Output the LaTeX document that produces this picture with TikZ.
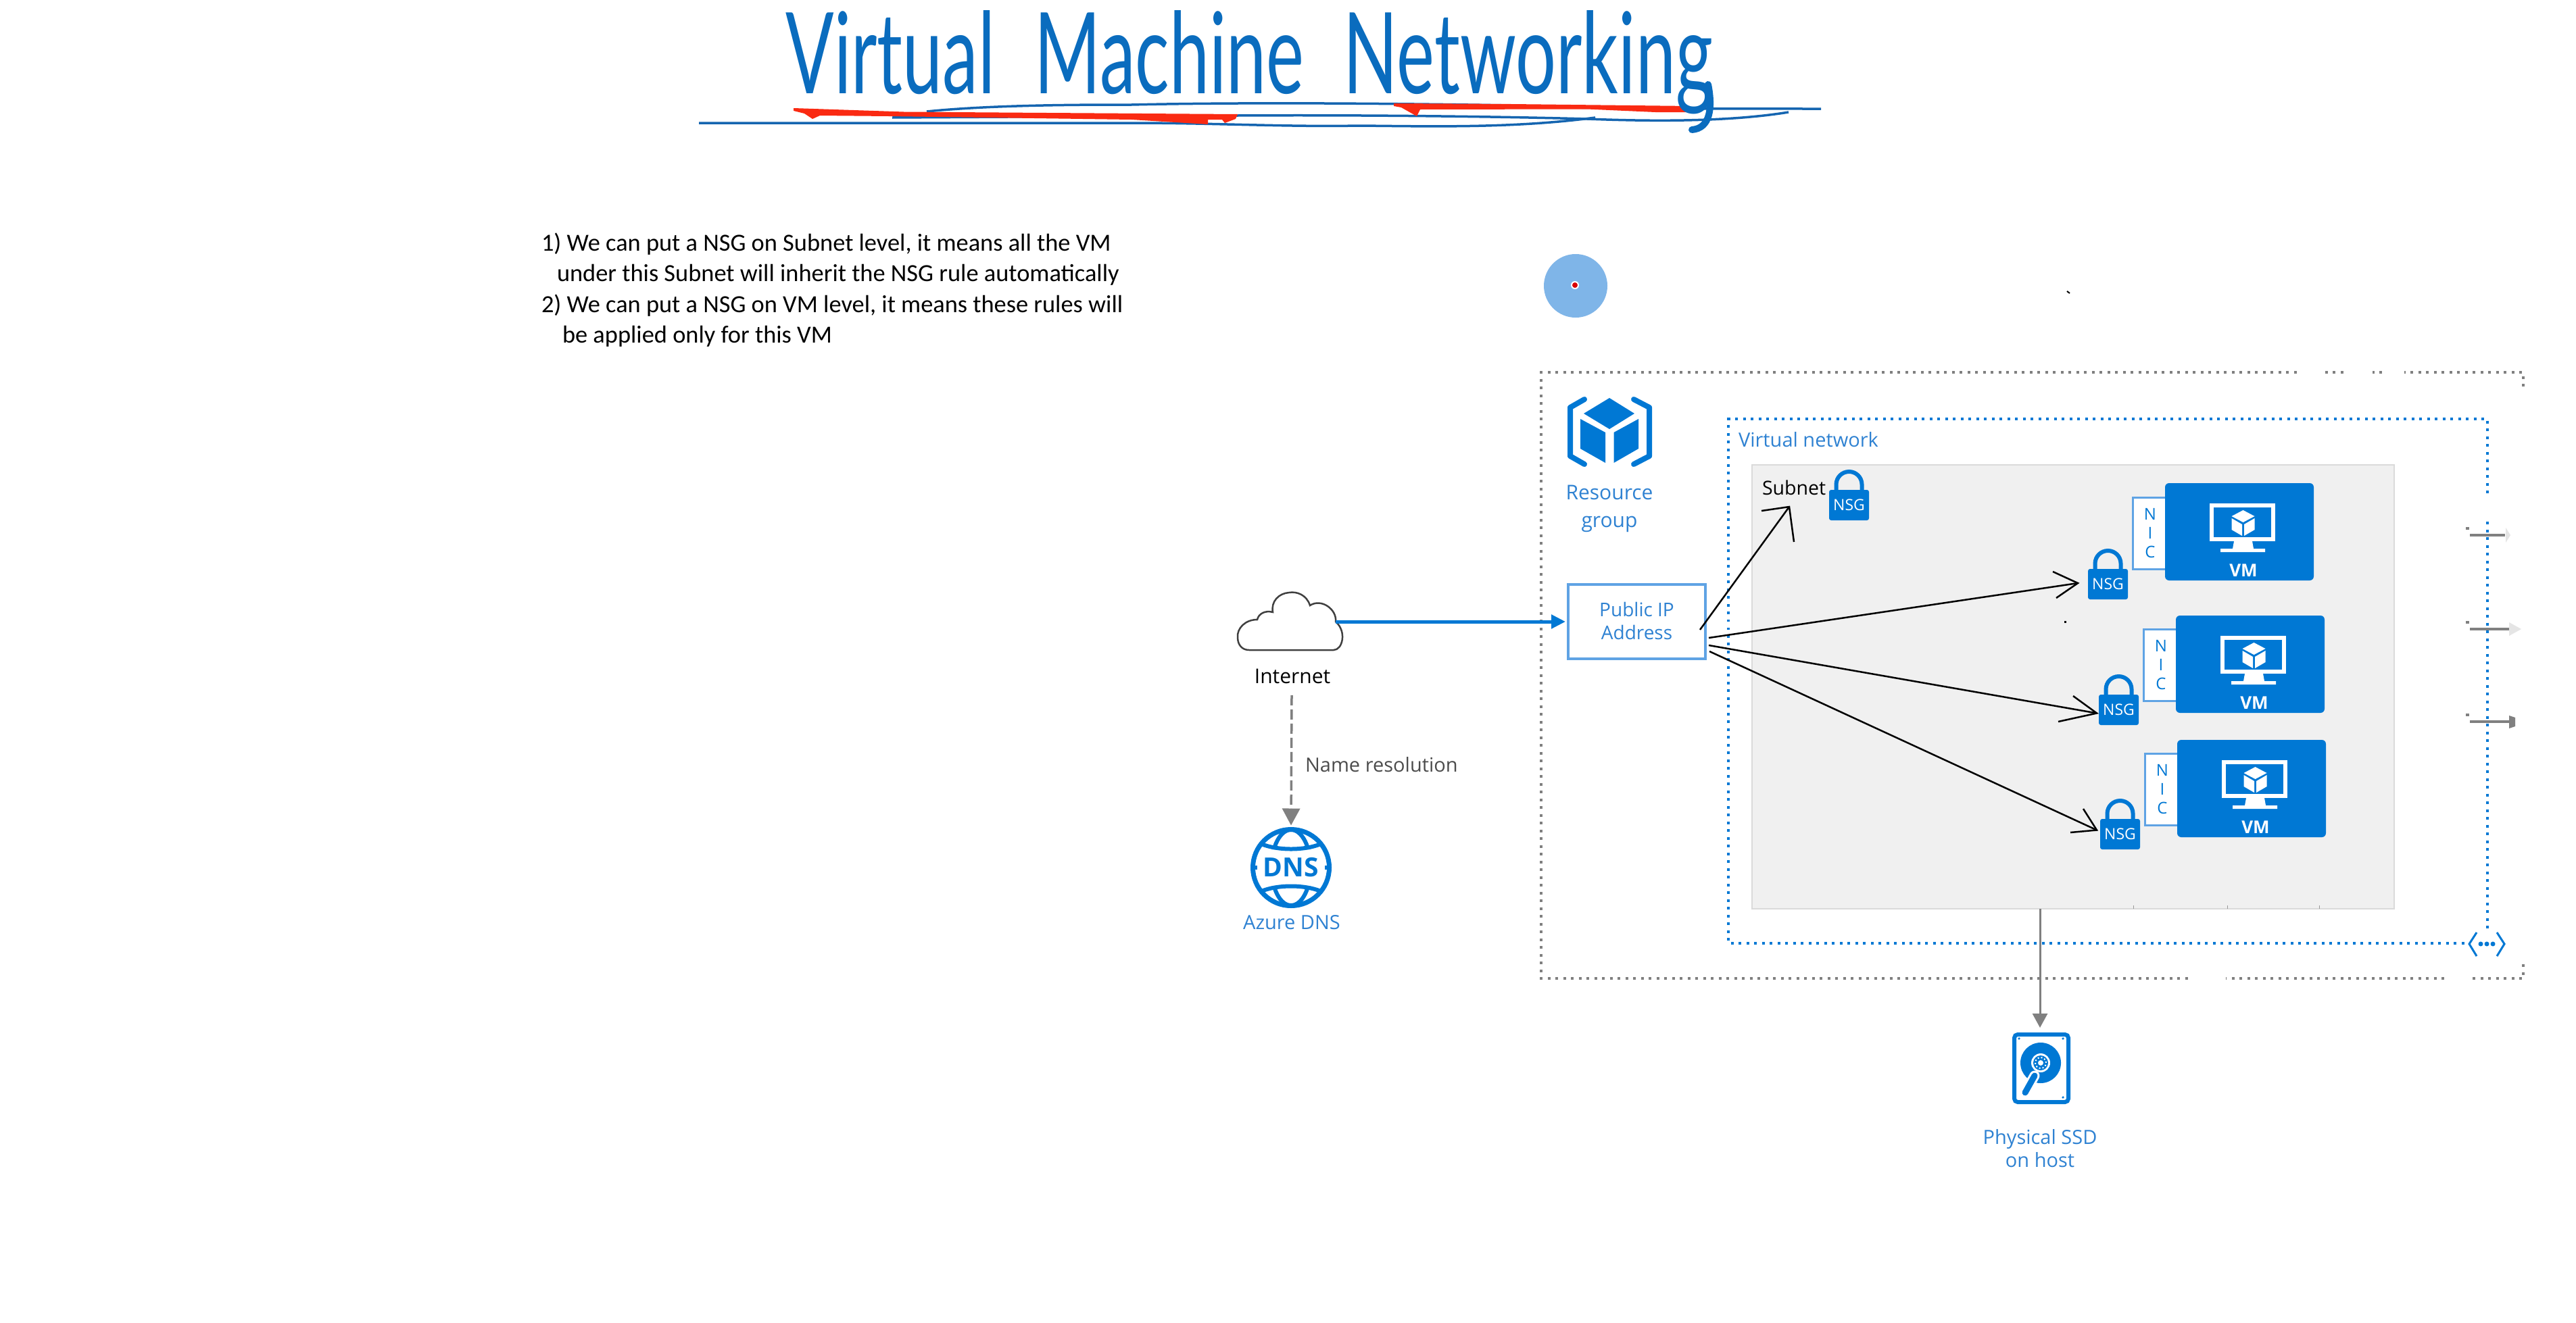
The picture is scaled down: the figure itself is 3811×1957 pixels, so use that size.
\documentclass[tikz,border=0pt]{standalone}
\usepackage{fontspec}
\usepackage{graphicx}
\usetikzlibrary{arrows.meta}
\setmainfont{Open Sans}
\newfontfamily\notefont{Carlito}
\newfontfamily\titlefont{Lato}
\definecolor{azure}{HTML}{0078D4}
\definecolor{lblue}{HTML}{2F82D2}
\definecolor{titleblue}{HTML}{0A6CBE}
\definecolor{linkblue}{HTML}{1565B0}
\definecolor{redink}{HTML}{FA2A12}
\definecolor{dotgray}{HTML}{808080}
\definecolor{subnetfill}{HTML}{F0F0F0}
\definecolor{subnetedge}{HTML}{DADADA}
\definecolor{nicedge}{HTML}{5FA3E4}
\definecolor{bubble}{HTML}{7FB5E8}
\tikzset{
  every node/.style={inner sep=0pt, outer sep=0pt},
  lab/.style={font=\fontsize{29}{34}\selectfont, text=lblue, align=center},
  darklab/.style={font=\fontsize{29}{34}\selectfont, text=black},
  vmbox/.style={fill=azure, rounded corners=6pt, minimum width=220pt, minimum height=144pt},
  vmlabel/.style={font=\fontsize{26}{30}\selectfont\bfseries, text=white},
  nicbox/.style={draw=nicedge, line width=3pt, fill=white, minimum width=52pt, minimum height=106pt,
     align=center, text=azure, font=\fontsize{24}{28}\selectfont},
  nsgbody/.style={fill=azure, rounded corners=3pt, minimum width=59pt, minimum height=45pt,
     text=white, font=\fontsize{23}{26}\selectfont},
  shackle/.style={draw=azure, line width=6pt},
  ink/.style={draw=black, line width=2.5pt},
  groupdots/.style={draw=dotgray, line width=4pt, dash pattern=on 4pt off 7.5pt},
  netdots/.style={draw=azure, line width=4pt, dash pattern=on 4pt off 7.5pt},
  rule/.style={draw=linkblue, line width=3.5pt},
  stub/.style={draw=dotgray, line width=4pt},
}
\newcommand{\nsgicon}[3]{%
  \node[nsgbody] (#1) at (#2+29.5,#3+22.5) {NSG};
  \draw[shackle] ([xshift=-19pt]#1.north) -- ++(0,-8) arc[start angle=180,end angle=0,radius=19pt] -- ++(0,8);
}
\newcommand{\cubeicon}[3]{%
  \begin{scope}[shift={(#1,#2)}]
    \fill[#3] (0,-19)--(17,-10)--(0,-1)--(-17,-10)--cycle;
    \fill[#3] (-17,-7)--(-1.5,2)--(-1.5,19)--(-17,10)--cycle;
    \fill[#3] (17,-7)--(1.5,2)--(1.5,19)--(17,10)--cycle;
  \end{scope}}
\newcommand{\vmicon}[3]{%
  \node[vmbox] (#1) at (#2+110,#3+72) {};
  \node[vmlabel] (#1l) at (#2+116,#3+129) {VM};
  \begin{scope}[shift={(#2,#3)}]
    \draw[white, line width=6pt] (69,33) rectangle (160,83);
    \fill[white] (102,86) -- (129,86) -- (131,97) -- (148,97) -- (148,102) -- (82,102) -- (82,97) -- (100,97) -- cycle;
    \cubeicon{115.5}{59}{white}
  \end{scope}}
\begin{document}
\begin{tikzpicture}[x=1pt,y=-1pt]
\useasboundingbox (0,0) rectangle (3811,1957);
\fill[white] (0,0) rectangle (3811,1957);

% title
\draw[rule] (1034,182) -- (1674,182) .. controls (1800,182) and (1900,188) .. (2011,186) .. controls (2120,187) and (2240,190) .. (2360,174);
\draw[rule] (1371,165) .. controls (1470,155) and (1600,155) .. (1674,155) .. controls (1800,152) and (2000,152) .. (2236,156) .. controls (2330,160) and (2400,161) .. (2694,161);
\draw[rule] (1320,174) -- (1831,171) .. controls (2000,170) and (2200,172) .. (2348,176) .. controls (2450,180) and (2560,180) .. (2646,166);
\fill[redink] (1174,160) -- (1337,165.5) -- (1831,169) -- (1828,176) -- (1812,182) -- (1808,177) -- (1787,177) -- (1787,184) -- (1674,177) -- (1315,172) -- (1213,171) -- (1202,176) -- (1190,168) -- (1174,164) -- cycle;
\fill[redink] (2062,153) -- (2236,154) -- (2500,157) -- (2500,166) -- (2449,166) -- (2348,161.5) -- (2101,162) -- (2096,172) -- (2073,159) -- (2062,157) -- cycle;
\node[text=titleblue, anchor=base] (title) at (1848,138) {\resizebox{1371pt}{123pt}{\titlefont\fontsize{100}{120}\selectfont\spaceskip=.55em Virtual Machine Networking}};
\draw[titleblue, line width=10pt, line cap=round] (2527,125) .. controls (2534,160) and (2530,190) .. (2503,192);

% notes
\node[anchor=north west, align=left, font=\notefont\fontsize{36.4}{45.5}\selectfont, text=black] (notes) at (801,344.5)
 {1) We can put a NSG on Subnet level, it means all the VM\\
  \hspace*{23pt}under this Subnet will inherit the NSG rule automatically\\
  2) We can put a NSG on VM level, it means these rules will\\
  \hspace*{31pt}be applied only for this VM};

% pointer bubble
\fill[bubble] (2331,423) circle[radius=47pt];
\fill[white] (2330,422) circle[radius=6pt];
\fill[red!85!black] (2330,422) circle[radius=4pt];
\draw[black, line width=2pt] (3058,431) -- (3062,434);

% group box
\draw[groupdots] (3733,572) -- (3733,551) -- (2280,551) -- (2280,1448) -- (3733,1448) -- (3733,1425);
\fill[white] (3399,545) rectangle (3440,558);
\fill[white] (3471,545) rectangle (3510,558);
\fill[white] (3528,545) rectangle (3557,558);
\fill[white] (3239,1442) rectangle (3293,1454);
\fill[white] (3619,1442) rectangle (3652,1454);

% resource group icon
\node[minimum width=125pt, minimum height=101pt] (rgicon) at (2381.5,638) {};
\fill[azure] (2381,589)--(2418,612)--(2381,635)--(2343,612)--cycle;
\fill[azure] (2338,620)--(2375,640)--(2375,685)--(2338,664)--cycle;
\fill[azure] (2387.5,640)--(2424,620)--(2424,664)--(2387.5,685)--cycle;
\draw[azure, line width=8pt, line cap=round, line join=round] (2344,591)--(2323,603)--(2323,675)--(2344,687);
\draw[azure, line width=8pt, line cap=round, line join=round] (2417,591)--(2440,603)--(2440,675)--(2417,687);
\node[lab, font=\fontsize{30}{41}\selectfont] (rglabel) at (2381,753) {Resource\\group};

% virtual network
\draw[netdots] (3680,1396) -- (2557,1396) -- (2557,620) -- (3680,620) -- cycle;
\fill[white] (3672,734) rectangle (3688,766);
\fill[white] (2550,920) rectangle (2594,929);
\node[lab, anchor=west, font=\fontsize{29}{36}\selectfont] (vnetlabel) at (2572,651) {Virtual network};

% subnet
\node[fill=subnetfill, draw=subnetedge, line width=2pt, minimum width=950pt, minimum height=657pt] (subnet) at (3067,1016.5) {};
\foreach \tx in {3156,3295,3431} \draw[black!40, line width=1pt] (\tx,1340) -- (\tx,1345);
\node[darklab, anchor=west, font=\fontsize{28.5}{34}\selectfont] (subnetlabel) at (2607,722) {Subnet};
\nsgicon{nsgs}{2706}{725}

% VMs
\node[nicbox] (nic1) at (3181,789) {N\\I\\C};
\node[nicbox] (nic2) at (3197,984) {N\\I\\C};
\node[nicbox] (nic3) at (3199,1168) {N\\I\\C};
\vmicon{vma}{3203}{715}
\vmicon{vmb}{3219}{911}
\vmicon{vmc}{3221}{1095}
\nsgicon{nsga}{3089}{842}
\nsgicon{nsgb}{3105}{1028}
\nsgicon{nsgc}{3107}{1212}

% public IP
\node[draw=nicedge, line width=4pt, fill=white, minimum width=203pt, minimum height=110pt, lab, font=\fontsize{28}{34}\selectfont] (pip) at (2421.5,920) {\raisebox{2pt}{Public IP}\\\raisebox{2pt}{Address}};

% internet
\node[minimum width=157pt, minimum height=85pt] (cloud) at (1909.5,920) {};
\draw[draw=black!75, line width=2.5pt, fill=white] (1848,962) -- (1973,962) .. controls (1986,962) and (1993,935) .. (1976,920) .. controls (1978,902) and (1955,885) .. (1938,896) .. controls (1933,880) and (1918,875) .. (1907,877) .. controls (1892,878) and (1880,890) .. (1883,906) .. controls (1872,903) and (1862,908) .. (1860,917) .. controls (1842,917) and (1830,930) .. (1831,943) .. controls (1831,955) and (1838,962) .. (1848,962) -- cycle;
\node[darklab, font=\fontsize{30}{36}\selectfont] (inet) at (1912,1001) {Internet};
\draw[azure, line width=5pt, -{Triangle[length=21pt,width=20pt]}] ([xshift=-12pt]cloud.east) -- ([xshift=-4pt]pip.west);

% DNS
\node[circle, draw=azure, line width=7pt, minimum size=113pt, text=azure, font=\fontsize{39}{44}\selectfont\bfseries] (dns) at (1910,1284) {DNS};
\begin{scope}
  \clip (1840,1210) rectangle (1980,1257) (1840,1311) rectangle (1980,1358);
  \draw[azure, line width=6pt] (1910,1284) ellipse[x radius=29pt, y radius=56pt];
\end{scope}
\draw[azure, line width=6pt] (1866,1249) .. controls (1890,1259) and (1930,1259) .. (1954,1249);
\draw[azure, line width=6pt] (1866,1319) .. controls (1890,1309) and (1930,1309) .. (1954,1319);
\draw[azure, line width=6pt] (1851,1284) -- (1860,1284) (1960,1284) -- (1969,1284);
\node[lab] (dnslabel) at (1911,1365) {Azure DNS};
\draw[dotgray, line width=3.5pt, dash pattern=on 15pt off 6pt, -{Triangle[length=25pt,width=26pt]}] ([xshift=-1pt,yshift=-17pt]inet.south) -- ([yshift=6pt]dns.north);
\node[darklab, anchor=west, text=black!70] (dnsnote) at (1931,1132) {Name resolution};

% SSD
\node[draw=azure, fill=white, line width=6pt, rounded corners=5pt, minimum width=80pt, minimum height=100pt] (ssd) at (3020,1581) {};
\fill[azure] (3019,1573) circle[radius=30pt];
\fill[white] (3019,1573) circle[radius=14pt];
\fill[azure] (3019,1573) circle[radius=11pt];
\draw[white, line width=2pt, dash pattern=on 2pt off 3pt] (3019,1573) circle[radius=8pt];
\fill[white] (3019,1573) circle[radius=4pt];
\draw[white, line width=15pt, line cap=round] (3010,1592) -- (2996,1617);
\draw[azure, line width=9pt, line cap=round] (3010,1592) -- (2996,1617);
\fill[azure] (2987,1537) circle[radius=1.8pt] (3052,1537) circle[radius=1.8pt] (3052,1624) circle[radius=1.8pt];
\node[lab] (ssdlabel) at (3018,1700) {Physical SSD\\on host};
\draw[dotgray, line width=3pt, -{Triangle[length=21pt,width=22pt]}] ([xshift=-49pt]subnet.south) -- ([xshift=-2pt,yshift=10pt]ssd.north);

% vnet corner icon
\fill[white] (3651,1377) rectangle (3708,1417);
\node[minimum width=54pt, minimum height=35pt] (peer) at (3679,1397) {};
\draw[azure, line width=3pt] (3664,1380) -- (3653,1397) -- (3664,1415);
\draw[azure, line width=3pt] (3694,1380) -- (3705,1397) -- (3694,1415);
\fill[azure] (3670,1397) circle[radius=3.5pt] (3679,1397) circle[radius=3.5pt] (3688,1397) circle[radius=3.5pt];

% stubs on the right
\foreach \sy/\sx in {792/3706, 931/3712, 1068/3712} {
  \draw[stub] (3654,\sy) -- (\sx,\sy);
  \fill[dotgray] (3648,\sy-12) rectangle (3653,\sy-8);
}
\fill[black!10] (3707,781) -- (3714,792) -- (3707,803) -- cycle;
\fill[black!10] (3712,921) -- (3730,931) -- (3712,941) -- cycle;
\fill[dotgray] (3712,1059) -- (3721,1062) -- (3721,1075) -- (3712,1078) -- cycle;

% hand drawn arrows
\fill[black] (3054,919) rectangle (3057,922);
\coordinate (tipa) at ([xshift=-15pt,yshift=1.5pt]nsga.west);
\coordinate (tipb) at ([xshift=-3pt,yshift=-5pt]nsgb.west);
\coordinate (tipc) at ([xshift=-5pt,yshift=6pt]nsgc.west);
\draw[ink] ([xshift=-8pt,yshift=-12pt]pip.east) -- (2647,750);
\draw[ink] (2606,756) -- (2647,750) -- (2654,802);
\draw[ink] ([xshift=5pt,yshift=-24pt]pip.east) -- (tipa);
\draw[ink] (3037,846) -- (tipa) -- (3042,885);
\draw[ink] ([xshift=5pt,yshift=-35pt]pip.east) -- (tipb);
\draw[ink] (3067,1030) -- (tipb) -- (3045,1068);
\draw[ink] ([xshift=6pt,yshift=-44pt]pip.east) -- (tipc);
\draw[ink] (3082,1197) -- (tipc) -- (3063,1232);
\end{tikzpicture}
\end{document}
